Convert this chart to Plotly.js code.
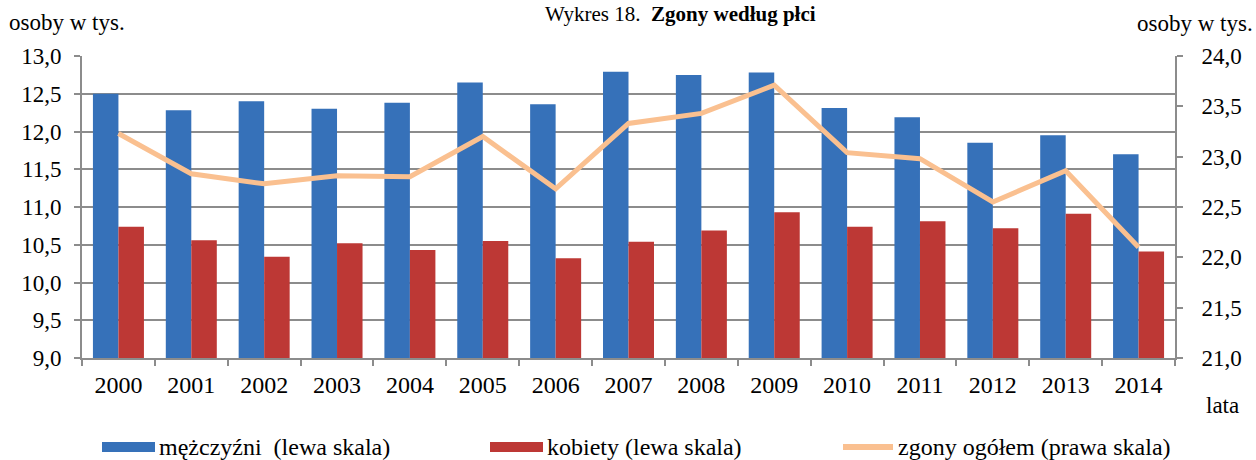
<!DOCTYPE html>
<html>
<head>
<meta charset="utf-8">
<script src="https://cdn.plot.ly/plotly-3.0.1.min.js"></script>
<style>html,body{margin:0;padding:0;background:#fff;}#chart{width:1256px;height:460px;}</style>
</head>
<body>
<div id="chart"></div>
<script>
var years = ['2000','2001','2002','2003','2004','2005','2006','2007','2008','2009','2010','2011','2012','2013','2014'];
var men   = [12.50,12.28,12.40,12.30,12.38,12.65,12.36,12.79,12.75,12.78,12.31,12.19,11.85,11.95,11.70];
var women = [10.74,10.56,10.34,10.52,10.43,10.55,10.32,10.54,10.69,10.93,10.74,10.81,10.72,10.91,10.41];
var total = [23.23,22.83,22.73,22.81,22.80,23.20,22.68,23.33,23.43,23.71,23.04,22.98,22.55,22.86,22.10];
var leftTicks = [9,9.5,10,10.5,11,11.5,12,12.5,13];
var rightTicks = [21,21.5,22,22.5,23,23.5,24];
var legendNames = ['mężczyźni  (lewa skala)','kobiety (lewa skala)','zgony ogółem (prawa skala)'];

var FONT = 'Liberation Serif';
var BLUE = '#3671B9', RED = '#BD3835', PEACH = '#FAC090', GRID = '#8C8C8C';
var FS = 23, FL = 24;

var traces = [
  {type:'bar', x:years, y:men, name:legendNames[0], marker:{color:BLUE, line:{width:0}}, yaxis:'y', showlegend:false},
  {type:'bar', x:years, y:women, name:legendNames[1], marker:{color:RED, line:{width:0}}, yaxis:'y', showlegend:false},
  {type:'scatter', mode:'lines', x:years, y:total, name:legendNames[2], line:{color:PEACH, width:5}, yaxis:'y2', showlegend:false}
];

var W = 1256, H = 460, L = 82, R = 81, T = 56, B = 102;
var pw = W - L - R, ph = H - T - B;
function px(x){ return (x - L) / pw; }
function py(y){ return (H - B - y) / ph; }

var shapes = [
  {type:'rect', xref:'paper', yref:'paper', x0:px(102), x1:px(155), y0:py(452), y1:py(442), fillcolor:BLUE, line:{width:0}},
  {type:'rect', xref:'paper', yref:'paper', x0:px(490), x1:px(543), y0:py(452), y1:py(442), fillcolor:RED, line:{width:0}},
  {type:'line', xref:'paper', yref:'paper', x0:px(843), x1:px(893), y0:py(447), y1:py(447), line:{color:PEACH, width:6}}
];

var annotations = [
  {xref:'paper', yref:'paper', x:px(680), y:py(0), xanchor:'center', yanchor:'top', showarrow:false,
   text:'Wykres 18.  <b>Zgony według płci</b>', font:{family:FONT, size:21, color:'#000'}},
  {xref:'paper', yref:'paper', x:px(7), y:py(22), xanchor:'left', yanchor:'middle', showarrow:false,
   text:'osoby w tys.', font:{family:FONT, size:FS, color:'#000'}},
  {xref:'paper', yref:'paper', x:px(1255), y:py(24), xanchor:'right', yanchor:'middle', showarrow:false,
   text:'osoby w tys.', font:{family:FONT, size:FS, color:'#000'}},
  {xref:'paper', yref:'paper', x:px(1222), y:py(405), xanchor:'center', yanchor:'middle', showarrow:false,
   text:'lata', font:{family:FONT, size:FS, color:'#000'}},
  {xref:'paper', yref:'paper', x:px(157), y:py(447), xanchor:'left', yanchor:'middle', showarrow:false,
   text:legendNames[0], font:{family:FONT, size:FL, color:'#000'}},
  {xref:'paper', yref:'paper', x:px(545), y:py(447), xanchor:'left', yanchor:'middle', showarrow:false,
   text:legendNames[1], font:{family:FONT, size:FL, color:'#000'}},
  {xref:'paper', yref:'paper', x:px(896), y:py(447), xanchor:'left', yanchor:'middle', showarrow:false,
   text:legendNames[2], font:{family:FONT, size:FL, color:'#000'}}
];

var layout = {
  width:W, height:H,
  margin:{l:L, r:R, t:T, b:B, pad:0},
  paper_bgcolor:'#fff', plot_bgcolor:'#fff',
  font:{family:FONT, size:FS, color:'#000'},
  barmode:'group', bargap:0.3, bargroupgap:0,
  showlegend:false,
  separators:', ',
  xaxis:{type:'category', showgrid:false, showline:true, linecolor:GRID, linewidth:2,
         ticks:'outside', tickson:'boundaries', ticklen:6, tickcolor:GRID, tickwidth:2,
         ticklabelstandoff:4, tickfont:{family:FONT, size:FL, color:'#000'}, zeroline:false},
  yaxis:{range:[9,13], tickvals:leftTicks, tickformat:'.1f', showgrid:true, gridcolor:GRID, gridwidth:2,
         showline:true, linecolor:GRID, linewidth:2, ticks:'outside', ticklen:6, tickcolor:GRID, tickwidth:2,
         ticklabelstandoff:8, tickfont:{family:FONT, size:FS, color:'#000'}, zeroline:false, fixedrange:true},
  yaxis2:{range:[21,24], tickvals:rightTicks, tickformat:'.1f', overlaying:'y', side:'right', showgrid:false,
          showline:true, linecolor:GRID, linewidth:2, ticks:'outside', ticklen:6, tickcolor:GRID, tickwidth:2,
          ticklabelstandoff:14, tickfont:{family:FONT, size:FS, color:'#000'}, zeroline:false, fixedrange:true},
  shapes:shapes,
  annotations:annotations
};

Plotly.newPlot('chart', traces, layout, {staticPlot:true, displayModeBar:false});
</script>
</body>
</html>
